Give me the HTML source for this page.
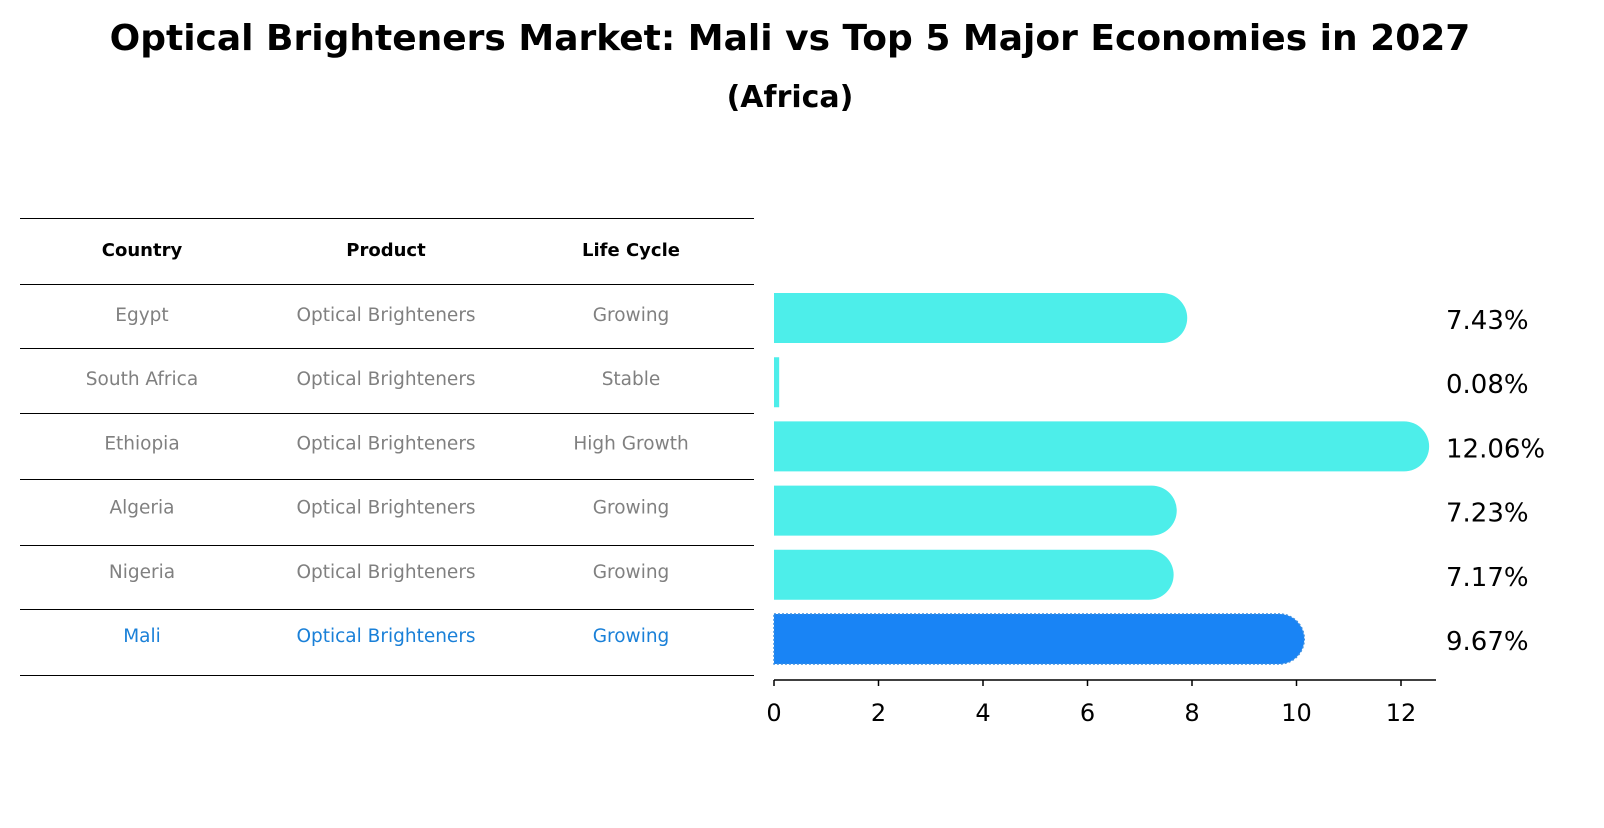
<!DOCTYPE html>
<html><head><meta charset="utf-8"><style>
body{margin:0;background:#fff;width:1604px;height:823px;overflow:hidden;font-family:"Liberation Sans","DejaVu Sans",sans-serif}
</style></head><body>
<svg width="1604" height="823" xmlns="http://www.w3.org/2000/svg" font-family="DejaVu Sans, Liberation Sans, sans-serif">
<text x="790" y="50" text-anchor="middle" font-size="36" font-weight="bold">Optical Brighteners Market: Mali vs Top 5 Major Economies in 2027</text>
<text x="790" y="107" text-anchor="middle" font-size="30" font-weight="bold">(Africa)</text>
<g id="table"></g>
<g id="bars"></g>
</svg>
<script>
const countries=["Egypt","South Africa","Ethiopia","Algeria","Nigeria","Mali"];
const products=["Optical Brighteners","Optical Brighteners","Optical Brighteners","Optical Brighteners","Optical Brighteners","Optical Brighteners"];
const lifecycles=["Growing","Stable","High Growth","Growing","Growing","Growing"];
const values=[7.43,0.08,12.06,7.23,7.17,9.67];
const valueLabels=["7.43%","0.08%","12.06%","7.23%","7.17%","9.67%"];
const ticks=[0,2,4,6,8,10,12];

const NS="http://www.w3.org/2000/svg";
function mk(tag,attrs,parent,text){const e=document.createElementNS(NS,tag);for(const k in attrs)e.setAttribute(k,attrs[k]);if(text!==undefined)e.textContent=text;parent.appendChild(e);return e;}
const T=document.getElementById('table'),B=document.getElementById('bars');
const lineYs=[218,284,348,413,479,545,609,675];
lineYs.forEach((y,i)=>{const l=mk('line',{x1:20,x2:754,y1:y+0.5,y2:y+0.5,stroke:'#000','stroke-width':1},T);

});
const colX=[142,386,631];
["Country","Product","Life Cycle"].forEach((h,i)=>{const t=mk('text',{x:colX[i],y:256,'text-anchor':'middle','font-size':18,'font-weight':'bold'},T,h);

});
function rowY(i){return 318+i*64.2;}
countries.forEach((c,i)=>{const col=i===countries.length-1?'#1a80d8':'#808080';
[c,products[i],lifecycles[i]].forEach((v,j)=>{const t=mk('text',{x:colX[j],y:rowY(i)+3,'text-anchor':'middle','font-size':18.5,fill:col},T,v);

});});
const x0=774,ppu=52.25;function X(v){return x0+v*ppu;}
const h=50,r=25;
values.forEach((v,i)=>{const cy=rowY(i),xe=X(v);const isM=i===values.length-1;
const fill=isM?'#1984f5':'#4deeea';
let d;
if(v*ppu<r){d=`M${x0},${cy-h/2}H${xe+1}V${cy+h/2}H${x0}Z`;}
else d=`M${x0},${cy-h/2}H${xe}A${r},${r} 0 0 1 ${xe},${cy+h/2}H${x0}Z`;
const p=mk('path',{d:d,fill:fill},B);
if(isM){p.setAttribute('stroke','#3a8ee0');p.setAttribute('stroke-dasharray','2,2');p.setAttribute('stroke-width','1.5');}


const t=mk('text',{x:1446,y:cy+11,'font-size':26},B,valueLabels[i]);

});
const ax=mk('line',{x1:x0,x2:1436,y1:680,y2:680,stroke:'#000','stroke-width':1.5},B);


ticks.forEach(v=>{const l=mk('line',{x1:X(v),x2:X(v),y1:680,y2:686,stroke:'#000','stroke-width':1.5},B);


const t=mk('text',{x:X(v),y:721,'text-anchor':'middle','font-size':24},B,String(v));

});
</script>
</body></html>
